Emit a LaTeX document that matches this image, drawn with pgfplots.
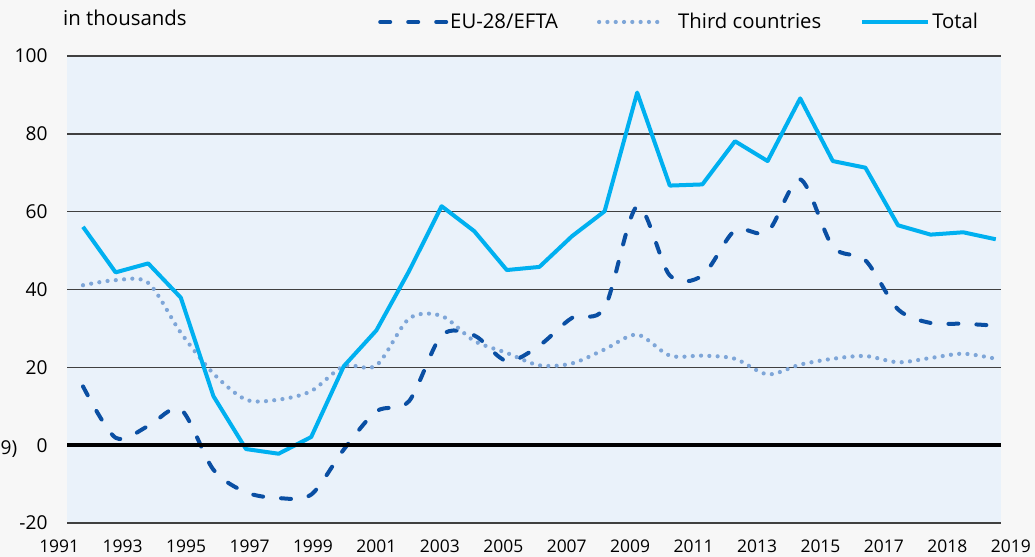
\documentclass[border=0pt]{standalone}
\usepackage{pgfplots}
\pgfplotsset{compat=1.18}
\usepackage{fontspec}
\setmainfont{Open Sans}
\definecolor{bgpage}{HTML}{F7F7F7}
\definecolor{plotbg}{HTML}{EAF2FA}
\definecolor{gridc}{HTML}{404040}
\definecolor{totalc}{HTML}{00B0F0}
\definecolor{euc}{HTML}{0A4FA3}
\definecolor{thirdc}{HTML}{7EA6D8}
\pgfplotstableread{
i eu third total
0 15.1 41.1 56.1
1 1.9 42.4 44.4
2 4.9 41.7 46.7
3 9.2 28.9 37.9
4 -6.3 18.4 12.6
5 -12.1 11.7 -1.0
6 -13.6 11.7 -2.2
7 -12.7 13.9 2.1
8 -1.1 20.3 20.3
9 8.7 20.5 29.5
10 11.3 32.5 44.7
11 28.2 33.2 61.4
12 28.2 26.8 55.0
13 21.6 23.7 45.0
14 25.6 20.5 45.8
15 32.7 21.0 53.7
16 35.3 24.6 60.1
17 61.4 28.4 90.6
18 43.6 23.0 66.7
19 43.6 23.0 67.0
20 55.2 22.2 78.1
21 54.8 18.2 73.0
22 68.3 20.7 89.1
23 51.0 22.2 73.0
24 47.5 22.9 71.3
25 34.9 21.3 56.5
26 31.4 22.4 54.1
27 31.2 23.5 54.7
28 30.7 22.2 52.9
}\datatable
\begin{document}
\begin{tikzpicture}[x=1bp,y=1bp]
\fill[bgpage] (0,0) rectangle (1035,557);
\useasboundingbox (0,0) rectangle (1035,557);
\begin{axis}[
  at={(67bp,34bp)}, anchor=south west,
  scale only axis, width=934bp, height=467bp,
  xmin=-0.491, xmax=28.16, ymin=-20, ymax=100,
  axis background/.style={fill=plotbg},
  axis lines*=left,
  axis line style={-},
  y axis line style={draw=none},
  x axis line style={draw=gridc, line width=1.5bp},
  ytick={-20,0,20,40,60,80,100},
  yticklabels={-20,0,20,40,60,80,100},
  xtick=\empty,
  ymajorgrids, grid style={gridc, line width=1.5bp},
  major tick length=0pt,
  yticklabel style={anchor=east, xshift=-16bp, font=\fontsize{19.2}{21}\selectfont, text=black},
  clip=false,
  legend style={at={(rel axis cs:0.333,1.0728)}, anchor=west, draw=none, fill=none,
    font=\fontsize{20.4}{22}\selectfont, inner sep=0pt,
    /tikz/every even column/.append style={column sep=37bp}},
  legend columns=3,
  legend cell align=left,
  legend image code/.code={\draw[#1] (0bp,0bp) -- (66bp,0bp);},
]
\addplot[euc, line width=4bp, line cap=round, dash pattern=on 10bp off 18bp, smooth, tension=0.5] table[x=i, y=eu] {\datatable};
\addlegendentry{EU-28/EFTA}
\addplot[thirdc, line width=4.2bp, line cap=round, dash pattern=on 0bp off 8.3bp, smooth, tension=0.5] table[x=i, y=third] {\datatable};
\addlegendentry{\hspace{9bp}Third countries}
\addplot[totalc, line width=4bp, line join=round] table[x=i, y=total] {\datatable};
\addlegendentry{Total}
\addplot[black, line width=4bp, forget plot] coordinates {(-0.491,0) (28.16,0)};
\end{axis}
% category labels, evenly spread as in the reference
\begin{axis}[
  at={(30bp,34bp)}, anchor=south west,
  scale only axis, width=1000bp, height=467bp,
  xmin=30, xmax=1030, ymin=0, ymax=1,
  axis line style={draw=none},
  ytick=\empty,
  xtick={59.2,122.64,186.08,249.52,312.96,376.4,439.84,503.28,566.72,630.16,693.6,757.04,820.48,883.92,947.36,1010.8},
  xticklabels={1991,1993,1995,1997,1999,2001,2003,2005,2007,2009,2011,2013,2015,2017,2018,2019},
  major tick length=0pt,
  xticklabel style={anchor=base, yshift=-30bp, font=\fontsize{17.5}{20}\selectfont, text=black},
]
\end{axis}
\node[anchor=base west, font=\fontsize{20.5}{22}\selectfont, inner sep=0pt] at (63,531) {in thousands};
\node[anchor=base west, font=\fontsize{19.2}{21}\selectfont, inner sep=0pt] at (0.5,102) {9)};
\end{tikzpicture}
\end{document}
